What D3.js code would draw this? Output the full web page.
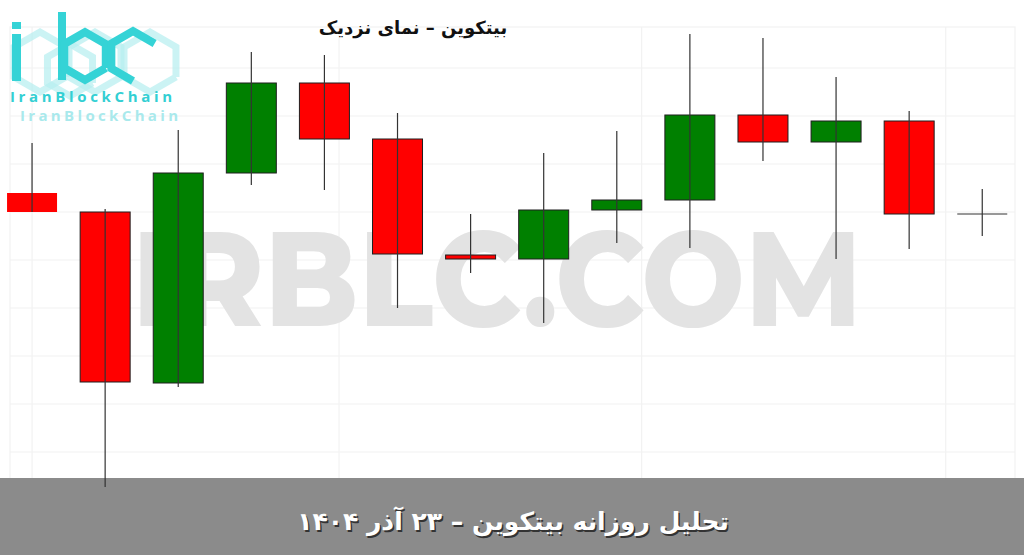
<!DOCTYPE html>
<html>
<head>
<meta charset="utf-8">
<script src="https://cdn.jsdelivr.net/npm/d3@7"></script>
<style>
    body { margin: 0; background: #fff; }
    svg { display: block; }
</style>
</head>
<body>
<div id="chart"></div>
<script>
// candle values (USD)
let opens  = [90235, 90140, 89285, 90335, 90785, 90505, 89925, 89905, 90150, 90200, 90625, 90490, 90595, 90130]
let closes = [90140, 89290, 90335, 90785, 90505, 89930, 89905, 90150, 90200, 90625, 90490, 90595, 90130, 90130]
let highs  = [90485, 90155, 90550, 90940, 90925, 90635, 90130, 90435, 90545, 91030, 91010, 90815, 90645, 90255]
let lows   = [90140, 88765, 89265, 90275, 90250, 89660, 89835, 89585, 89985, 89960, 90395, 89905, 89955, 90020]
let gridValues = [90860, 90620, 90380, 90140, 89900, 89660, 89420, 89180, 88940]
let gridCols = [0, 4.2, 8.34, 12.5]

let title = 'بیتکوین – نمای نزدیک'
let footer = 'تحلیل روزانه بیتکوین – ۲۳ آذر ۱۴۰۴'
let watermark = 'IRBLC.COM'
let brand = 'IranBlockChain'

let width = 1024
let height = 555

let data = opens.map((o, i) => ({ i: i, open: o, close: closes[i], high: highs[i], low: lows[i] }))

let svg = d3.select('#chart').append('svg')
    .attr('width', width)
    .attr('height', height)

let xScale = d3.scalePoint()
    .domain(d3.range(data.length))
    .range([-4.5, 1018.8])
    .padding(0.5)

let bodyW = xScale.step() * 0.684

let yScale = d3.scaleLinear()
    .domain([88600, 91200])
    .range([520, 0])

let xLin = d3.scaleLinear().domain([0, data.length - 1]).range([xScale(0), xScale(data.length - 1)])

// faint grid + frame
let grid = svg.append('g').attr('stroke', '#f2f2f2').attr('stroke-width', 1.2)
grid.selectAll('.h').data(gridValues).join('line')
    .attr('x1', 10).attr('x2', 1015)
    .attr('y1', d => yScale(d)).attr('y2', d => yScale(d))
grid.selectAll('.v').data(gridCols).join('line')
    .attr('x1', d => xLin(d)).attr('x2', d => xLin(d))
    .attr('y1', 27).attr('y2', 478)
grid.append('rect')
    .attr('x', 10).attr('y', 27).attr('width', 1005).attr('height', 460)
    .attr('fill', 'none')

// watermark
svg.append('text')
    .attr('x', 132).attr('y', 326)
    .attr('textLength', 730)
    .attr('lengthAdjust', 'spacingAndGlyphs')
    .style('font-family', 'Montserrat, "Open Sans", sans-serif')
    .style('font-weight', 800)
    .style('font-size', '134px')
    .attr('fill', '#e3e3e3')
    .text(watermark)

// footer band (drawn before candles: the long wick runs over it)
svg.append('rect')
    .attr('x', 0).attr('y', 478)
    .attr('width', width).attr('height', height - 478)
    .attr('fill', '#8b8b8b')

// logo
let logo = svg.append('g')
function hex(cx, cy, r) {
    let pts = d3.range(7).map(k => {
        let a = Math.PI / 3 * k + Math.PI / 6
        return [cx + r * Math.cos(a), cy + r * Math.sin(a)]
    })
    return d3.line()(pts)
}
let faded = [[40, 62, 30], [95, 62, 30], [150, 62, 30], [70, 70, 26]]
logo.selectAll('.fh').data(faded).join('path')
    .attr('d', d => hex(d[0], d[1], d[2]))
    .attr('fill', 'none')
    .attr('stroke', '#b5eef0')
    .attr('stroke-width', 7)
    .attr('opacity', 0.7)
logo.append('rect').attr('x', 12).attr('y', 22).attr('width', 9).attr('height', 7).attr('fill', '#35d3d6')
logo.append('rect').attr('x', 12).attr('y', 34).attr('width', 9).attr('height', 47).attr('fill', '#35d3d6')
logo.append('rect').attr('x', 58).attr('y', 12).attr('width', 8).attr('height', 68).attr('fill', '#35d3d6')
logo.append('path').attr('d', hex(85, 56, 24))
    .attr('fill', 'none').attr('stroke', '#35d3d6').attr('stroke-width', 8)
logo.append('path')
    .attr('d', () => {
        let cx = 133, cy = 56, r = 25
        let pts = [1, 2, 3, 4, 5].map(k => {
            let a = Math.PI / 3 * k + Math.PI / 6
            return [cx + r * Math.cos(a), cy + r * Math.sin(a)]
        })
        return d3.line()(pts)
    })
    .attr('fill', 'none').attr('stroke', '#35d3d6').attr('stroke-width', 8)
logo.append('text')
    .attr('x', 10).attr('y', 102)
    .attr('textLength', 162)
    .style('font-family', '"Open Sans", sans-serif')
    .style('font-weight', 700)
    .style('font-size', '15px')
    .attr('fill', '#33cfd3')
    .text(brand)
logo.append('text')
    .attr('x', 20).attr('y', 121)
    .attr('textLength', 158)
    .style('font-family', '"Open Sans", sans-serif')
    .style('font-weight', 700)
    .style('font-size', '15px')
    .attr('fill', '#a9e9ec')
    .text(brand)

// candles
let candles = svg.append('g').selectAll('g').data(data).join('g')

candles.append('rect')
    .attr('x', d => xScale(d.i) - bodyW / 2)
    .attr('y', d => yScale(Math.max(d.open, d.close)))
    .attr('width', bodyW)
    .attr('height', d => Math.max(0, yScale(Math.min(d.open, d.close)) - yScale(Math.max(d.open, d.close))))
    .attr('fill', d => d.close >= d.open ? '#008000' : '#ff0000')
    .attr('stroke', d => d.i == 0 ? 'none' : '#1f1f1f')
    .attr('stroke-width', 1)
    .attr('display', d => d.open == d.close ? 'none' : null)

// doji: flat tick
candles.filter(d => d.open == d.close).append('line')
    .attr('x1', d => xScale(d.i) - bodyW / 2)
    .attr('x2', d => xScale(d.i) + bodyW / 2)
    .attr('y1', d => yScale(d.open))
    .attr('y2', d => yScale(d.open))
    .attr('stroke', '#333')
    .attr('stroke-width', 1)

candles.append('line')
    .attr('x1', d => xScale(d.i)).attr('x2', d => xScale(d.i))
    .attr('y1', d => yScale(d.high))
    .attr('y2', d => yScale(d.low))
    .attr('stroke', '#333')
    .attr('stroke-width', 1.2)

// title
svg.append('text')
    .attr('x', 413).attr('y', 34)
    .attr('text-anchor', 'middle')
    .attr('direction', 'rtl')
    .style('font-family', '"DejaVu Sans", sans-serif')
    .style('font-weight', 700)
    .style('font-size', '18px')
    .attr('fill', '#111')
    .text(title)

svg.append('text')
    .attr('x', 513).attr('y', 530)
    .attr('text-anchor', 'middle')
    .attr('direction', 'rtl')
    .style('font-family', '"DejaVu Sans", sans-serif')
    .style('font-weight', 700)
    .style('font-size', '25px')
    .attr('fill', '#333')
    .attr('transform', 'translate(1.5,1.5)')
    .text(footer)

svg.append('text')
    .attr('x', 513).attr('y', 530)
    .attr('text-anchor', 'middle')
    .attr('direction', 'rtl')
    .style('font-family', '"DejaVu Sans", sans-serif')
    .style('font-weight', 700)
    .style('font-size', '25px')
    .attr('fill', '#fff')
    .text(footer)
</script>
</body>
</html>
